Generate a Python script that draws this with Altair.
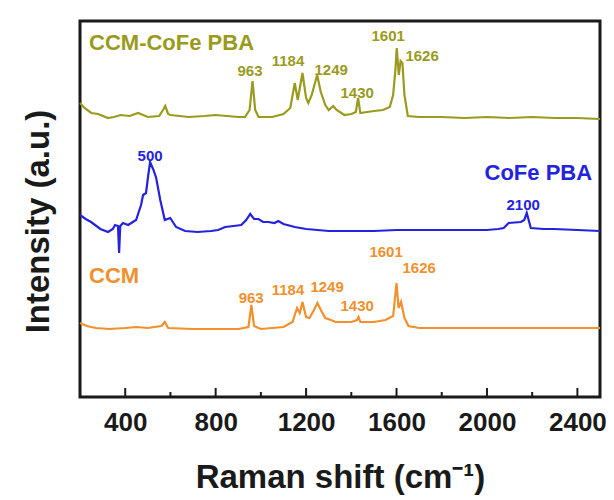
import altair as alt
import pandas as pd

# ---- data (Raman shift in cm^-1, intensity in a.u. with stacking offset) ----
ccm_cofe_x = [200, 220, 250, 280, 324, 350, 380, 420, 457, 500, 550, 570, 577, 590, 600, 680, 750, 800,
              900, 930, 950, 963, 975, 990, 1050, 1100, 1130, 1150, 1163, 1184, 1200, 1210, 1225, 1249,
              1265, 1285, 1300, 1320, 1335, 1370, 1400, 1420, 1430, 1440, 1470, 1500, 1540, 1570, 1585,
              1595, 1601, 1610, 1618, 1626, 1635, 1650, 1700, 1800, 1900, 2000, 2100, 2200, 2300, 2400, 2500]
ccm_cofe_y = [294, 289, 284, 283, 279, 280, 282, 281, 284, 280, 281, 288, 291, 283, 282, 280, 281, 282,
              280, 280, 287, 316, 287, 280, 280, 283, 289, 314, 297, 324, 299, 294, 302, 322,
              305, 292, 287, 291, 287, 282, 283, 285, 299, 284, 285, 286, 287, 290, 302,
              327, 349, 322, 336, 334, 302, 281, 280, 280, 279, 280, 279, 280, 279, 279, 278]

cofe_x = [200, 225, 249, 290, 324, 345, 355, 368, 373, 378, 390, 413, 448, 470, 479, 492, 502, 510, 525,
          537, 555, 575, 599, 625, 665, 720, 780, 811, 842, 880, 913, 935, 953, 970, 989, 1010, 1033,
          1060, 1077, 1100, 1150, 1200, 1300, 1400, 1500, 1600, 1706, 1800, 1900, 2000, 2050, 2074,
          2096, 2150, 2165, 2176, 2194, 2250, 2296, 2400, 2500]
cofe_y = [182, 178, 175, 168, 165, 168, 172, 171, 144, 171, 174, 172, 177, 192, 202, 204, 222, 235, 227,
          219, 197, 177, 179, 170, 166, 165, 166, 167, 170, 171, 172, 177, 183, 178, 178, 175, 175,
          174, 176, 173, 170, 168, 166, 166, 166, 167, 167, 167, 167, 167, 168, 169,
          174, 175, 177, 184, 169, 168, 168, 167, 166]

ccm_x = [200, 230, 270, 330, 400, 450, 500, 560, 575, 590, 700, 800, 900, 945, 958, 970, 1000, 1100,
         1140, 1160, 1172, 1184, 1200, 1215, 1235, 1250, 1270, 1285, 1310, 1330, 1400, 1425, 1432,
         1440, 1500, 1551, 1585, 1600, 1609, 1620, 1635, 1653, 1700, 1800, 2000, 2200, 2500]
ccm_y = [74, 71, 69, 68, 69, 70, 69, 71, 75, 69, 68, 68, 68, 70, 92, 71, 68, 70,
         75, 89, 84, 95, 80, 79, 87, 94, 85, 79, 77, 75, 75, 77, 80,
         75, 75, 77, 81, 114, 89, 95, 79, 71, 69, 69, 69, 69, 69]

series_names = ["CCM-CoFe PBA", "CoFe PBA", "CCM"]
series_colors = ["#9a9a1e", "#2323de", "#f1902c"]

# peak labels
peak_text = ["963", "1184", "1249", "1430", "1601", "1626",
             "500", "2100",
             "963", "1184", "1249", "1430", "1601", "1626"]
peak_x = [952, 1120, 1311, 1426, 1563, 1713,
          510, 2160,
          957, 1120, 1293, 1426, 1554, 1700]
peak_y = [326, 336, 327, 304, 361, 341,
          241, 192,
          99, 107, 110, 91, 145, 129]
peak_series = ["CCM-CoFe PBA"] * 6 + ["CoFe PBA"] * 2 + ["CCM"] * 6

# series name labels
name_left_text = ["CCM-CoFe PBA", "CCM"]
name_left_x = [240, 240]
name_left_y = [354, 121]
name_right_text = ["CoFe PBA"]
name_right_x = [2465]
name_right_y = [224]

major_ticks = [400, 800, 1200, 1600, 2000, 2400]
minor_ticks = [600, 1000, 1400, 1800, 2200]

# ---- build tables ----
spec = pd.concat([
    pd.DataFrame({"shift": ccm_cofe_x, "intensity": ccm_cofe_y, "series": "CCM-CoFe PBA"}),
    pd.DataFrame({"shift": cofe_x, "intensity": cofe_y, "series": "CoFe PBA"}),
    pd.DataFrame({"shift": ccm_x, "intensity": ccm_y, "series": "CCM"}),
])
peaks = pd.DataFrame({"shift": peak_x, "intensity": peak_y, "label": peak_text, "series": peak_series})
names_l = pd.DataFrame({"shift": name_left_x, "intensity": name_left_y, "label": name_left_text,
                        "series": name_left_text})
names_r = pd.DataFrame({"shift": name_right_x, "intensity": name_right_y, "label": name_right_text,
                        "series": name_right_text})
majors = pd.DataFrame({"shift": major_ticks})
minors = pd.DataFrame({"shift": minor_ticks})

W, H = 520, 376
FONT = "Liberation Sans"

xscale = alt.Scale(domain=[200, 2500], nice=False, zero=False)
yscale = alt.Scale(domain=[0, 376], nice=False, zero=False)
cscale = alt.Scale(domain=series_names, range=series_colors)

xaxis = alt.Axis(values=major_ticks, ticks=False, tickSize=0, domain=False, grid=False,
                 labelFont=FONT, labelFontSize=26, labelFontWeight="bold", labelColor="#1a1a1a",
                 labelPadding=12, format="d",
                 title="Raman shift (cm⁻¹)", titleFont=FONT, titleFontSize=33, titleFontWeight="bold",
                 titleColor="#1a1a1a", titleBaseline="middle", titleY=80)
yaxis = alt.Axis(labels=False, ticks=False, domain=False, grid=False,
                 title="Intensity (a.u.)", titleFont=FONT, titleFontSize=33, titleFontWeight="bold",
                 titleColor="#1a1a1a", titleBaseline="middle", titleX=-42, titleY=200, titleAngle=-90)

lines = alt.Chart(spec).mark_line(strokeWidth=2.2, interpolate="linear").encode(
    x=alt.X("shift:Q", scale=xscale, axis=xaxis),
    y=alt.Y("intensity:Q", scale=yscale, axis=yaxis),
    color=alt.Color("series:N", scale=cscale, legend=None),
    detail="series:N",
    order="shift:Q",
)

peak_labels = alt.Chart(peaks).mark_text(font=FONT, fontSize=15, fontWeight="bold",
                                         align="center", baseline="middle").encode(
    x=alt.X("shift:Q", scale=xscale),
    y=alt.Y("intensity:Q", scale=yscale),
    text="label:N",
    color=alt.Color("series:N", scale=cscale, legend=None),
)

left_names = alt.Chart(names_l).mark_text(font=FONT, fontSize=22, fontWeight="bold",
                                          align="left", baseline="middle").encode(
    x=alt.X("shift:Q", scale=xscale),
    y=alt.Y("intensity:Q", scale=yscale),
    text="label:N",
    color=alt.Color("series:N", scale=cscale, legend=None),
)

right_names = alt.Chart(names_r).mark_text(font=FONT, fontSize=22, fontWeight="bold",
                                           align="right", baseline="middle").encode(
    x=alt.X("shift:Q", scale=xscale),
    y=alt.Y("intensity:Q", scale=yscale),
    text="label:N",
    color=alt.Color("series:N", scale=cscale, legend=None),
)

major_rules = alt.Chart(majors).mark_rule(color="#1a1a1a", strokeWidth=2).encode(
    x=alt.X("shift:Q", scale=xscale),
    y=alt.value(H),
    y2=alt.value(H - 9),
)
minor_rules = alt.Chart(minors).mark_rule(color="#1a1a1a", strokeWidth=2).encode(
    x=alt.X("shift:Q", scale=xscale),
    y=alt.value(H),
    y2=alt.value(H - 5),
)

chart = alt.layer(lines, peak_labels, left_names, right_names, major_rules, minor_rules).properties(
    width=W, height=H,
    autosize=alt.AutoSizeParams(type="none"),
    padding={"left": 80, "top": 21, "right": 14, "bottom": 103},
    background="white",
).configure_view(
    stroke="#1a1a1a", strokeWidth=3,
)

chart.save("out.html", embed_options={"renderer": "svg", "actions": False})
